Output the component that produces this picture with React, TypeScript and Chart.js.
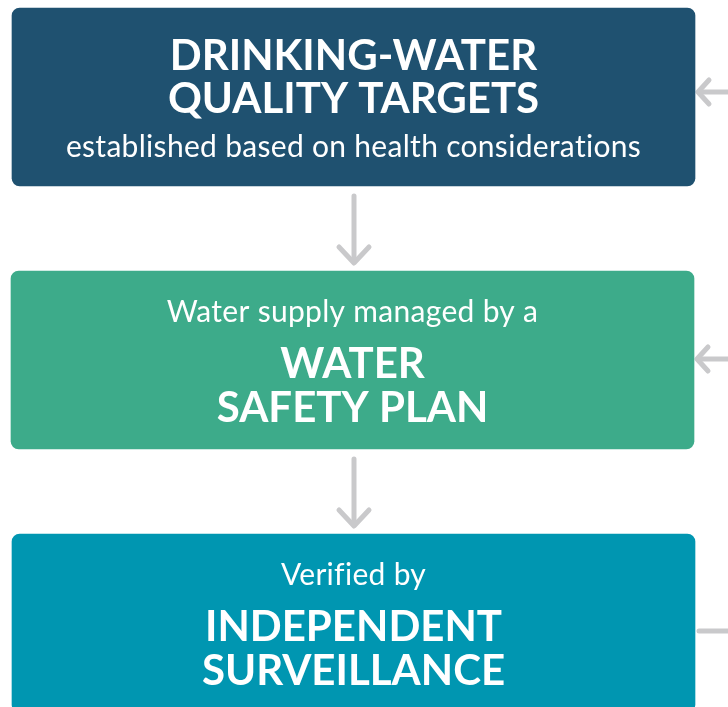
import React, { useEffect, useRef } from "react";
import { Chart, registerables } from "chart.js";

Chart.register(...registerables);

// Diagram boxes (chart units = pixels, y axis reversed)
const BOX_NAMES = ["targets", "plan", "surveillance"];
const BOX_LEFT = [12, 11, 12];
const BOX_RIGHT = [695, 694, 695];
const BOX_CENTER = [97, 360, 623];
const BOX_COLORS = ["#1f5170", "#3dab8a", "#0096b1"];

// Text in each box
const TITLE_LINES = [
  ["DRINKING-WATER", "QUALITY TARGETS"],
  ["WATER", "SAFETY PLAN"],
  ["INDEPENDENT", "SURVEILLANCE"],
];
const SUB_LINES = [
  "established based on health considerations",
  "Water supply managed by a",
  "Verified by",
];
const SUB_FIRST = [false, true, true];

// Arrow polylines: [x, y] points
const DOWN_SHAFTS = [
  [[354, 196], [354, 262]],
  [[354, 459], [354, 525]],
];
const DOWN_HEADS = [
  [[339, 247], [354, 263], [369, 247]],
  [[339, 510], [354, 526], [369, 510]],
];
const SIDE_SHAFTS = [
  [[699, 92], [730, 92]],
  [[698, 359], [730, 359]],
  [[699, 631], [730, 631]],
];
const SIDE_HEADS = [
  [[709, 80], [698, 92], [709, 104]],
  [[708, 347], [697, 359], [708, 371]],
];

const ARROW_COLOR = "#c9c9cb";

const toPts = (arr: number[][]) => arr.map(([x, y]) => ({ x, y }));

export default function App() {
  const ref = useRef<HTMLCanvasElement | null>(null);

  useEffect(() => {
    document.body.style.margin = "0";
    const canvas = ref.current;
    if (!canvas) return;

    const lineSets = [...DOWN_SHAFTS, ...DOWN_HEADS, ...SIDE_SHAFTS, ...SIDE_HEADS].map(
      (seg) => ({
        type: "line" as const,
        data: toPts(seg),
        borderColor: ARROW_COLOR,
        borderWidth: 5,
        borderCapStyle: "round" as const,
        borderJoinStyle: "round" as const,
        pointRadius: 0,
        fill: false,
        tension: 0,
      })
    );

    const textPlugin = {
      id: "boxText",
      afterDatasetsDraw(chart: any) {
        const ctx = chart.ctx;
        const meta = chart.getDatasetMeta(0);
        ctx.save();
        ctx.fillStyle = "#ffffff";
        ctx.textAlign = "center";
        ctx.textBaseline = "alphabetic";
        meta.data.forEach((el: any, i: number) => {
          const cx = (el.x + el.base) / 2;
          const top = el.y - el.height / 2;
          const titleFont = "bold 42px Lato";
          const subFont = "30px Lato";
          const drawSub = (y: number) => {
            ctx.font = subFont;
            if ("letterSpacing" in ctx) (ctx as any).letterSpacing = "0.3px";
            ctx.fillText(SUB_LINES[i], cx, y);
            if ("letterSpacing" in ctx) (ctx as any).letterSpacing = "0px";
          };
          if (!SUB_FIRST[i]) {
            ctx.font = titleFont;
            TITLE_LINES[i].forEach((t, j) => ctx.fillText(t, cx, top + 62 + j * 43));
            drawSub(top + 149);
          } else {
            drawSub(top + 51);
            ctx.font = titleFont;
            TITLE_LINES[i].forEach((t, j) => ctx.fillText(t, cx, top + 107 + j * 44));
          }
        });
        ctx.restore();
      },
    };

    const chart = new Chart(canvas, {
      type: "bar",
      data: {
        labels: BOX_NAMES,
        datasets: [
          {
            type: "bar",
            indexAxis: "y",
            data: BOX_NAMES.map((_, i) => ({ y: BOX_CENTER[i], x: [BOX_LEFT[i], BOX_RIGHT[i]] })) as any,
            backgroundColor: BOX_COLORS,
            barThickness: 178,
            borderRadius: 8,
            borderSkipped: false,
          } as any,
          ...(lineSets as any[]),
        ],
      },
      options: {
        animation: false,
        responsive: false,
        layout: { padding: 0 },
        plugins: { legend: { display: false }, tooltip: { enabled: false } },
        events: [],
        scales: {
          x: { type: "linear", min: 0, max: 728, offset: false, display: false },
          y: { type: "linear", min: 0, max: 707, reverse: true, offset: false, display: false },
        },
      },
      plugins: [textPlugin],
    } as any);

    return () => chart.destroy();
  }, []);

  return (
    <div style={{ width: 728, height: 707 }}>
      <canvas ref={ref} width={728} height={707} style={{ display: "block" }} />
    </div>
  );
}
